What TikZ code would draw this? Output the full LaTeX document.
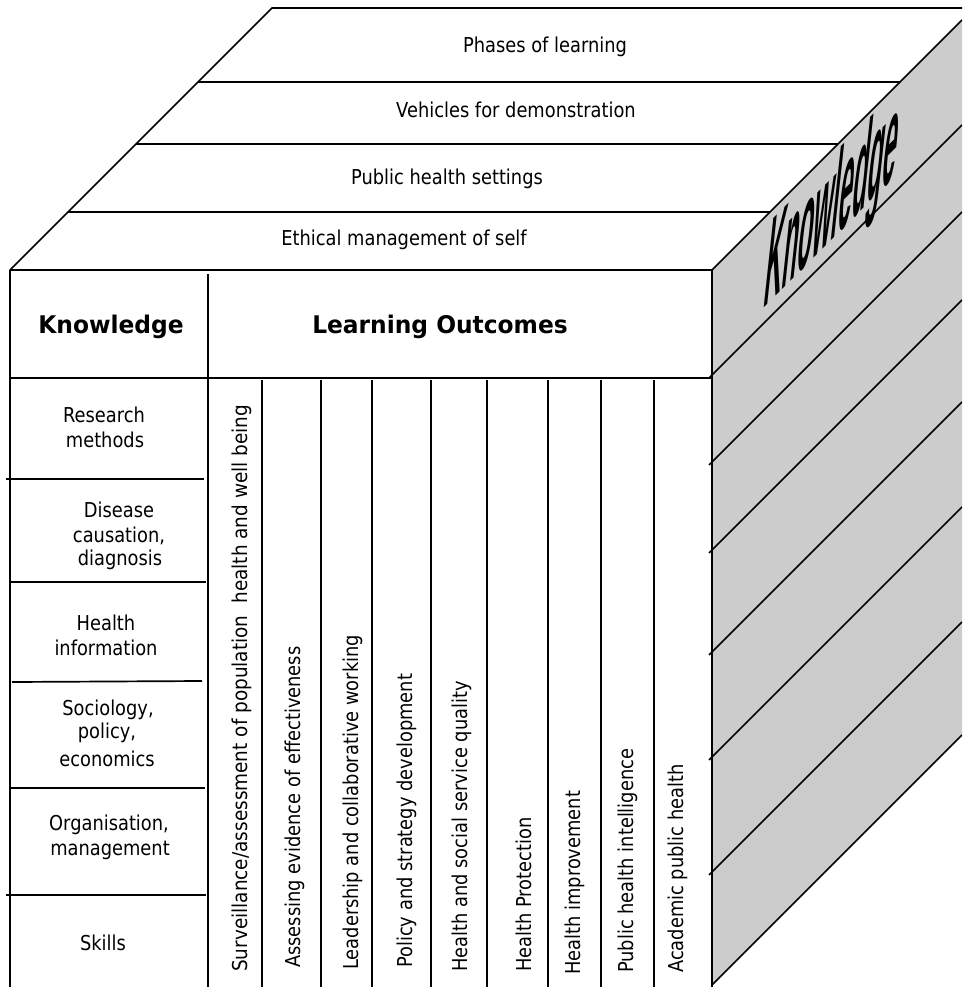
\documentclass[tikz,border=0pt]{standalone}
\usepackage{fontspec}
\newfontfamily\tah{DejaVu Sans}[FakeStretch=0.87]
\newfontfamily\tahw{DejaVu Sans}[FakeStretch=0.90]
\newfontfamily\tahb{DejaVu Sans}[FakeStretch=0.96]
\newfontfamily\arialf{Liberation Sans}
\begin{document}
\begin{tikzpicture}[x=1pt,y=-1pt,
  ln/.style={line width=1.7pt, black},
  txt/.style={anchor=base, inner sep=0pt, font=\tah\fontsize{20.5}{25}\selectfont},
  hd/.style={anchor=base, inner sep=0pt, font=\tahb\bfseries\fontsize{24.3}{28}\selectfont},
  coltxt/.style={rotate=90, anchor=base west, inner sep=0pt, font=\tah\fontsize{20.5}{25}\selectfont},
  sideface/.style={fill=gray!40, draw=none}]
\useasboundingbox (0,0) rectangle (962,987);
\begin{scope}
\clip (0,0) rectangle (962,987);
% side face
\fill[sideface] (712,270) -- (962,20) -- (962,735) -- (712,985) -- cycle;
\foreach \yy in {375,462,550,652,757,872} {
  \draw[ln] (709,\yy+3) -- (962,\yy-250);
}
\draw[ln] (712,270) -- (962,20);
\draw[ln] (712,985) -- (962,735);
% top face
\draw[ln] (10,270) -- (272,8) -- (962,8);
\foreach \yy in {82,144,212} {
  \draw[ln] ({10+270-\yy},\yy) -- ({712+270-\yy},\yy);
}
% front face
\draw[ln] (10,270) -- (712,270);
\draw[ln] (10,270) -- (10,987);
\draw[ln] (712,270) -- (712,987);
\draw[ln] (10,378) -- (712,378);
\draw[ln] (208,274) -- (208,987);
\foreach \xx in {262,321,372,431,487,548,601,654} {
  \draw[ln] (\xx,380) -- (\xx,987);
}
\draw[ln] (6,479) -- (204,479);
\draw[ln] (10,582) -- (206,582);
\draw[ln] (12,682) -- (202,681);
\draw[ln] (10,788) -- (205,788);
\draw[ln] (6,895) -- (206,895);
\end{scope}
% top face texts
\node[txt] (t1) at (545,53) {Phases of learning};
\node[txt] (t2) at (516,118) {Vehicles for demonstration};
\node[txt] (t3) at (447,185) {Public health settings};
\node[txt] (t4) at (404,245) {Ethical management of self};
% headers
\node[hd] (hk) at (111,333) {Knowledge};
\node[hd] (hl) at (440,333) {Learning Outcomes};
% knowledge rows
\node[txt] (r1a) at (104,422) {Research};
\node[txt] (r1b) at (105,447) {methods};
\node[txt] (r2a) at (119,517) {Disease};
\node[txt] (r2b) at (119,542) {causation,};
\node[txt] (r2c) at (120,565) {diagnosis};
\node[txt] (r3a) at (106,630) {Health};
\node[txt] (r3b) at (106,655) {information};
\node[txt] (r4a) at (108,715) {Sociology,};
\node[txt] (r4b) at (107,738) {policy,};
\node[txt] (r4c) at (107,766) {economics};
\node[txt] (r5a) at (109,830) {Organisation,};
\node[txt] (r5b) at (110,855) {management};
\node[txt] (r6a) at (103,950) {Skills};
% learning outcome columns
\node[coltxt, font=\tahw\fontsize{20.5}{25}\selectfont] (c1) at (247,972) {Surveillance/assessment of population\ \ health and well being};
\node[coltxt] (c2) at (300,968) {Assessing evidence of effectiveness};
\node[coltxt] (c3) at (358,970) {Leadership and collaborative working};
\node[coltxt] (c4) at (412,968) {Policy and strategy development};
\node[coltxt] (c5) at (467,972) {Health and social service quality};
\node[coltxt] (c6) at (531,972) {Health Protection};
\node[coltxt] (c7) at (580,975) {Health improvement};
\node[coltxt] (c8) at (633,973) {Public health intelligence};
\node[coltxt] (c9) at (683,973) {Academic public health};
% side label
\begin{scope}[shift={(762,310)}, cm={1.237,1.237,0.7,6.5,(0,0)}]
\node[transform shape, anchor=base west, inner sep=0pt, font=\arialf\bfseries\fontsize{20}{20}\selectfont] (kside) at (0,0) {Knowledge};
\end{scope}
\end{tikzpicture}
\end{document}
